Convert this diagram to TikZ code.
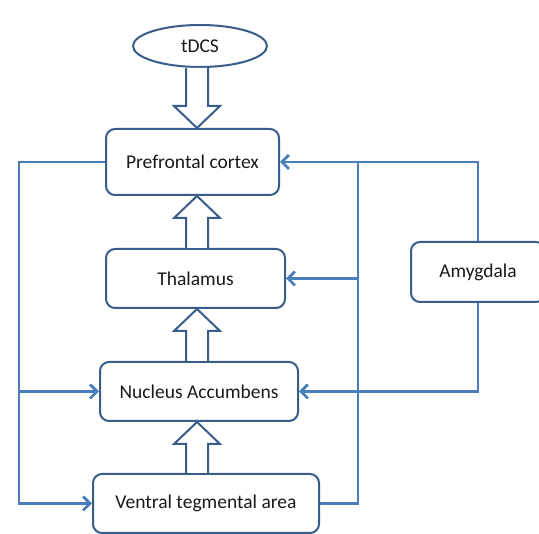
\documentclass[tikz,border=0pt]{standalone}
\usepackage{fontspec}
\setmainfont{Carlito}
\usepackage{tikz}
\usetikzlibrary{arrows.meta,calc,shapes.geometric}
\definecolor{boxblue}{HTML}{385D8A}
\definecolor{lineblue}{HTML}{4A7EBB}

\newcommand{\hollowarrow}[2]{%
  \coordinate (b) at (axis |- #1);
  \coordinate (t) at (axis |- #2);
  \coordinate (h) at ($(t)!22pt!(b)$);
  \draw[hollow] ($(b)+(-11,0)$) -- ($(h)+(-11,0)$) -- ($(h)+(-23,0)$) -- (t)
    -- ($(h)+(23,0)$) -- ($(h)+(11,0)$) -- ($(b)+(11,0)$);
}

\begin{document}
\begin{tikzpicture}[x=1pt, y=-1pt,
    box/.style={draw=boxblue, line width=2pt, rounded corners=9pt, fill=white,
      font=\fontsize{19.5}{23}\selectfont, text=black!90, inner sep=0pt},
    hollow/.style={draw=boxblue, line width=2pt, fill=white, line join=miter},
    feed/.style={draw=lineblue, line width=2.8pt},
    >={Straight Barb[length=7pt,width=14pt]}]
    \clip (0,0) rectangle (539,534);
    \coordinate (axis) at (197,0);
    \coordinate (lft) at (19,0);
    \coordinate (rgt) at (358,0);

    \node[box, ellipse, rounded corners=0pt, minimum width=134, minimum height=42] (tdcs) at (200,46) {tDCS};
    \node[box, minimum width=173, minimum height=66] (pfc) at (192.5,162) {Prefrontal cortex};
    \node[box, minimum width=179, minimum height=59] (thal) at (195.5,278.5) {Thalamus};
    \node[box, minimum width=198, minimum height=59] (nac) at (199,391.5) {Nucleus Accumbens};
    \node[box, minimum width=226, minimum height=59] (vta) at (206,503.5) {Ventral tegmental area};
    \node[box, minimum width=134, minimum height=60] (amy) at (478,272) {Amygdala};

    \hollowarrow{tdcs.south}{pfc.north}
    \hollowarrow{thal.north}{pfc.south}
    \hollowarrow{nac.north}{thal.south}
    \hollowarrow{vta.north}{nac.south}

    \draw[feed,->] (pfc.west) -| (lft |- vta.west) -- (vta.west);
    \draw[feed,->] (lft |- nac.west) -- (nac.west);
    \draw[feed,->] (vta.east) -| (rgt |- pfc.east) -- (pfc.east);
    \draw[feed,->] (rgt |- thal.east) -- (thal.east);
    \draw[feed] (amy.north) |- (rgt |- pfc.east);
    \draw[feed,->] (amy.south) |- (nac.east);
\end{tikzpicture}
\end{document}
